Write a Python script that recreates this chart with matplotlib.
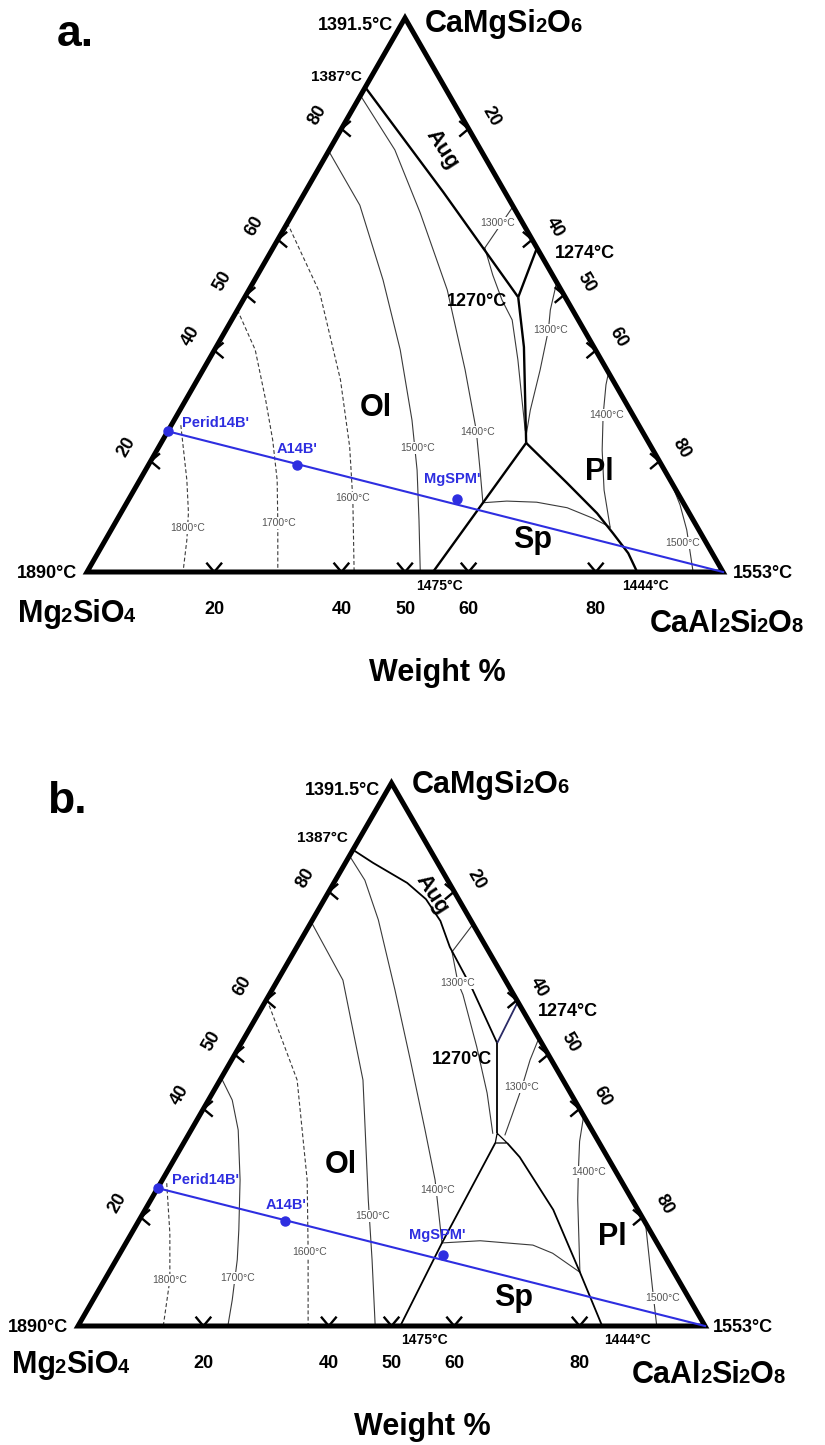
import numpy as np
import matplotlib.pyplot as plt
from matplotlib.patches import Polygon
from matplotlib.font_manager import FontProperties

plt.rcParams['font.family'] = ['Liberation Sans', 'DejaVu Sans']

W, H = 825, 1445

# ---- data: compositions as (wt% CaAl2Si2O8, wt% CaMgSi2O6) ----
TICKS = [20, 40, 50, 60, 80]
PT_NAMES = ["Perid14B'", "A14B'", "MgSPM'"]
PT_AN = [0.0, 23.3, 51.6]
PT_DI = [25.4, 19.3, 13.1]

# panel a: phase boundaries
A_OL_AUG = [(0, 87.5), (21.7, 68.6), (43.0, 49.6)]
A_AUG_PL = [(41.5, 58.5), (43.0, 49.6)]
A_COTECTIC = [(43.0, 49.6), (48.4, 40.6), (57.4, 23.3)]
A_OL_SP = [(57.4, 23.3), (54.4, 0)]
A_SP_PL = [(57.4, 23.3), (67.4, 16.1), (74.9, 10.6), (79.2, 7.0), (83.4, 3.4), (86.5, 0)]
# panel a: isotherms
A_T1800 = [(1.5, 26.5), (7.4, 16.6), (10.6, 10.7), (12.8, 5.8), (15.1, 0)]
A_T1700 = [(0, 47.3), (6.4, 40.1), (12.6, 31.0), (17.3, 23.8), (21.6, 16.6), (25.6, 8.8), (30.0, 0)]
A_T1600 = [(0, 63.0), (11.4, 50.4), (22.5, 34.7), (30.0, 22.6), (35.3, 13.0), (42.0, 0)]
A_T1500_OL = [(0, 76.0), (9.8, 66.2), (20.2, 52.7), (29.2, 40.1), (37.4, 27.4), (42.7, 18.4), (47.5, 9.4), (52.4, 0)]
A_T1400_OL = [(0, 86.0), (10.3, 76.2), (20.0, 64.8), (31.2, 50.9), (41.2, 36.5), (48.4, 25.6), (52.6, 18.4), (56.0, 12.5)]
A_T1400_SP = [(56.0, 12.5), (59.6, 12.8), (64.4, 12.6), (69.7, 11.6), (74.7, 9.7), (78.2, 8.1)]
A_T1400_PL = [(78.2, 8.1), (73.9, 14.8), (70.0, 22.0), (67.0, 28.3), (64.7, 33.8), (64.0, 36.0)]
A_T1300_AUG = [(34.0, 66.0), (33.3, 58.5)]
A_T1300_OL = [(33.3, 58.5), (37.0, 53.6), (40.7, 49.1), (44.1, 45.5), (48.6, 38.3), (52.9, 31.0), (56.1, 25.6)]
A_T1300_PL = [(47.7, 52.3), (49.2, 47.3), (50.7, 43.7), (53.0, 36.5), (55.1, 29.2), (56.7, 24.7)]
A_T1500_PL = [(83.4, 16.6), (87.2, 12.1), (90.5, 7.6), (95.3, 0)]
A_ISO_LABELS = [("1800°C", 11.9, 7.9), ("1700°C", 25.8, 8.8), ("1600°C", 35.1, 13.4),
                ("1500°C", 40.7, 22.4), ("1400°C", 48.7, 25.3), ("1300°C", 33.0, 63.0),
                ("1300°C", 51.0, 43.7), ("1400°C", 67.6, 28.3), ("1500°C", 91.1, 5.2)]
A_FIELDS = [("Ol", 30.6, 29.6), ("Sp", 67.1, 5.8), ("Pl", 71.6, 18.0)]
A_AUG = (17.7, 76.2)

# panel b: phase boundaries
B_OL_AUG = [(0, 87.7), (4.4, 85.3), (11.7, 81.6), (16.2, 78.6), (20.5, 74.6), (24.4, 69.8),
            (32.0, 61.9), (40.8, 52.1)]
B_AUG_PL = [(40.3, 59.7), (40.8, 52.1)]
B_COTECTIC = [(40.8, 52.1), (49.1, 35.5)]
B_SMALL_TRI = [(49.1, 35.5), (51.6, 33.7), (49.7, 33.7), (49.1, 35.5)]
B_OL_SP = [(49.7, 33.7), (50.4, 15.3), (51.4, 0)]
B_SP_PL = [(51.6, 33.7), (54.9, 31.1), (65.1, 21.4), (75.1, 9.9), (83.6, 0)]
# panel b: isotherms
B_T1800 = [(1.0, 26.3), (6.1, 17.1), (10.4, 8.5), (13.6, 0)]
B_T1700 = [(0, 45.7), (3.8, 41.6), (7.5, 36.1), (12.4, 26.9), (16.8, 17.7), (19.3, 12.2), (22.2, 4.8), (23.9, 0)]
B_T1600 = [(1.0, 59.0), (12.3, 45.3), (23.1, 26.9), (29.7, 14.0), (36.7, 0)]
B_T1500_OL = [(0, 74.4), (10.4, 63.7), (22.8, 45.3), (34.7, 23.2), (40.8, 12.2), (47.4, 0)]
B_T1400_OL = [(0, 86.6), (4.7, 82.1), (10.5, 74.8), (19.6, 61.9), (28.5, 49.0), (37.3, 36.1),
              (43.5, 26.9), (48.2, 19.0), (50.4, 15.3)]
B_T1400_SP = [(50.4, 15.3), (56.3, 15.7), (65.1, 14.9), (69.0, 13.4), (75.1, 9.9)]
B_T1400_PL = [(75.1, 9.9), (68.1, 23.2), (65.6, 28.4), (63.0, 34.0), (61.3, 38.7)]
B_T1300_AUG = [(26.0, 74.0), (25.2, 68.9)]
B_T1300_OL = [(25.2, 68.9), (29.0, 63.2), (30.9, 61.0), (37.9, 51.4), (43.8, 42.9), (48.4, 35.5)]
B_T1300_PL = [(47.0, 53.0), (47.6, 49.0), (48.8, 44.0), (49.8, 38.9), (50.5, 35.2)]
B_T1500_PL = [(81.0, 19.0), (88.0, 7.2), (92.3, 0)]
B_ISO_LABELS = [("1800°C", 10.4, 8.5), ("1700°C", 21.1, 8.8), ("1600°C", 30.2, 13.6),
                ("1500°C", 36.9, 20.3), ("1400°C", 44.9, 25.0), ("1300°C", 29.0, 63.2),
                ("1300°C", 48.8, 44.0), ("1400°C", 67.2, 28.4), ("1500°C", 90.7, 5.2)]
B_FIELDS = [("Ol", 27.0, 29.7), ("Sp", 66.8, 5.2), ("Pl", 77.0, 16.4)]
B_AUG = (16.8, 79.4)

BLUE = '#2e2ee0'
ISO_GREY = '#3a3a3a'

fig = plt.figure(figsize=(W / 100, H / 100), dpi=100)
renderer = fig.canvas.get_renderer()


def ftext(x, y, s, **kw):
    # text placed in image pixels (origin top-left)
    return fig.text(x / W, 1 - y / H, s, **kw)


def advance(s, size):
    # pen advance of a string: measure it followed by a bar, minus the bar
    fp = FontProperties(family=['Liberation Sans'], weight='bold', size=size)
    w1 = renderer.get_text_width_height_descent(s + "|", fp, ismath=False)[0]
    w2 = renderer.get_text_width_height_descent("|", fp, ismath=False)[0]
    return w1 - w2


def formula(x, y, parts, size):
    # chemical formula with small digits sitting on the baseline
    for s, small in parts:
        fs = size * (0.66 if small else 1.0)
        ftext(x, y, s, fontsize=fs, fontweight='bold', va='baseline', ha='left')
        x += advance(s, fs) - (1.5 if s[-1] in 'ilg' else 0.0)


def xy(pts, h):
    an, di = np.array(pts, float).T / 100.0
    return an + di / 2, di * h


def panel(box, lines, isos, iso_labels, fields, aug, blue_lw):
    left, top, right, bottom = box
    wpx, hpx = right - left, bottom - top
    h = hpx / wpx
    ax = fig.add_axes([left / W, 1 - bottom / H, wpx / W, hpx / H])
    ax.set_xlim(0, 1)
    ax.set_ylim(0, h)
    ax.axis('off')

    ax.add_patch(Polygon([(0, 0), (1, 0), (0.5, h)], closed=True, fill=False,
                         lw=3.6, ec='k', joinstyle='miter', zorder=6, clip_on=False))

    # ticks (arrow heads) and tick labels
    arm = 11.0 / wpx
    for t in TICKS:
        f = t / 100.0
        specs = [((f, 0.0), (0, 1), 0, (0, -27)),
                 ((f / 2, f * h), (1, 0), 60, (-17, 10)),
                 ((f + (1 - f) / 2, (1 - f) * h), (-1, 0), -60, (16, 9))]
        for (tx, ty), (dx, dy), rot, off in specs:
            ang = np.arctan2(dy, dx)
            for s in (-1, 1):
                a = ang + s * np.radians(40)
                ax.plot([tx, tx + arm * np.cos(a)], [ty, ty + arm * np.sin(a)],
                        color='k', lw=1.7, zorder=6, clip_on=False)
            ax.annotate(str(t), (tx, ty), xytext=off, textcoords='offset points',
                        rotation=rot, ha='center', va='center', fontsize=13,
                        fontweight='bold', annotation_clip=False)

    for pts, lw, col in lines:
        x, y = xy(pts, h)
        ax.plot(x, y, color=col, lw=lw, zorder=4, solid_capstyle='butt')
    for pts, dashed in isos:
        x, y = xy(pts, h)
        ax.plot(x, y, color=ISO_GREY, lw=0.8, zorder=3,
                ls=(0, (3.5, 2.2)) if dashed else '-')
    for s, an, di in iso_labels:
        x, y = xy([(an, di)], h)
        ax.text(x[0], y[0], s, fontsize=7.5, color='#555555', ha='center', va='center',
                zorder=5, bbox=dict(fc='white', ec='none', pad=0.6))
    for s, an, di in fields:
        x, y = xy([(an, di)], h)
        ax.text(x[0], y[0], s, fontsize=22, fontweight='bold', ha='center', va='center', zorder=5)
    x, y = xy([aug], h)
    ax.text(x[0], y[0], "Aug", fontsize=16, fontweight='bold', rotation=-57,
            ha='center', va='center', zorder=5)

    # projection line and samples
    x, y = xy([(PT_AN[0], PT_DI[0]), (100, 0)], h)
    ax.plot(x, y, color=BLUE, lw=blue_lw, zorder=7, clip_on=False)
    x, y = xy(list(zip(PT_AN, PT_DI)), h)
    ax.plot(x, y, 'o', color=BLUE, ms=6.5, zorder=8, clip_on=False)
    offs = [(10, 6), (-14, 11.5), (-24, 14.5)]
    for name, px_, py_, off in zip(PT_NAMES, x, y, offs):
        ax.annotate(name, (px_, py_), xytext=off, textcoords='offset points',
                    color=BLUE, fontsize=10.5, fontweight='bold', ha='left',
                    va='center', zorder=9, annotation_clip=False)
    return ax


def boundaries(ol_aug, aug_pl, cot, ol_sp, sp_pl, lw, extra=()):
    out = [(ol_aug, lw, 'k'), (aug_pl, lw, 'k'), (cot, lw, 'k'), (ol_sp, lw, 'k'), (sp_pl, lw, 'k')]
    return out + list(extra)


# ---------------- panel a ----------------
lines_a = boundaries(A_OL_AUG, A_AUG_PL, A_COTECTIC, A_OL_SP, A_SP_PL, 1.7)
isos_a = [(A_T1800, True), (A_T1700, True), (A_T1600, True), (A_T1500_OL, False),
          (A_T1400_OL, False), (A_T1400_SP, False), (A_T1400_PL, False),
          (A_T1300_AUG, False), (A_T1300_OL, False), (A_T1300_PL, False), (A_T1500_PL, False)]
panel((87, 18, 723, 572), lines_a, isos_a, A_ISO_LABELS, A_FIELDS, A_AUG, 1.5)

# ---------------- panel b ----------------
lines_b = boundaries(B_OL_AUG, B_AUG_PL, B_COTECTIC, B_OL_SP, B_SP_PL, 1.3,
                     extra=[(B_SMALL_TRI, 0.9, 'k')])
lines_b[1] = (B_AUG_PL, 1.3, '#2a2a66')
isos_b = [(B_T1800, True), (B_T1700, False), (B_T1600, True), (B_T1500_OL, False),
          (B_T1400_OL, False), (B_T1400_SP, False), (B_T1400_PL, False),
          (B_T1300_AUG, False), (B_T1300_OL, False), (B_T1300_PL, False), (B_T1500_PL, False)]
panel((78, 783, 705, 1326), lines_b, isos_b, B_ISO_LABELS, B_FIELDS, B_AUG, 1.5)

# ---------------- labels around the triangles ----------------
for tag, (tx, ty) in [("a.", (75, 34)), ("b.", (67, 802))]:
    ftext(tx, ty, tag, fontsize=32, fontweight='bold', ha='center', va='center')

vertex_labels = [
    # panel a
    ("1391.5°C", 393, 26, 'right', 13), ("1387°C", 362, 77, 'right', 11),
    ("1890°C", 77, 573, 'right', 13), ("1553°C", 733, 573, 'left', 13),
    ("1274°C", 555, 253, 'left', 13), ("1270°C", 447, 302, 'left', 13),
    ("1475°C", 439, 586, 'center', 10), ("1444°C", 645, 586, 'center', 10),
    # panel b
    ("1391.5°C", 380, 791, 'right', 13), ("1387°C", 348, 838, 'right', 11),
    ("1890°C", 68, 1327, 'right', 13), ("1553°C", 713, 1327, 'left', 13),
    ("1274°C", 538, 1012, 'left', 13), ("1270°C", 432, 1060, 'left', 13),
    ("1475°C", 424, 1340, 'center', 10), ("1444°C", 627, 1340, 'center', 10),
]
for s, x, y, ha, fs in vertex_labels:
    ftext(x, y, s, fontsize=fs, fontweight='bold', ha=ha, va='center')

di_parts = [("CaMgSi", False), ("2", True), ("O", False), ("6", True)]
fo_parts = [("Mg", False), ("2", True), ("SiO", False), ("4", True)]
an_parts = [("CaAl", False), ("2", True), ("Si", False), ("2", True), ("O", False), ("8", True)]
formula(425, 32, di_parts, 22)
formula(18, 622, fo_parts, 22)
formula(650, 632, an_parts, 22)
formula(412, 793, di_parts, 22)
formula(12, 1373, fo_parts, 22)
formula(632, 1383, an_parts, 22)

ftext(437, 673, "Weight %", fontsize=22, fontweight='bold', ha='center', va='center')
ftext(422, 1427, "Weight %", fontsize=22, fontweight='bold', ha='center', va='center')

fig.savefig("out.png", dpi=100)
